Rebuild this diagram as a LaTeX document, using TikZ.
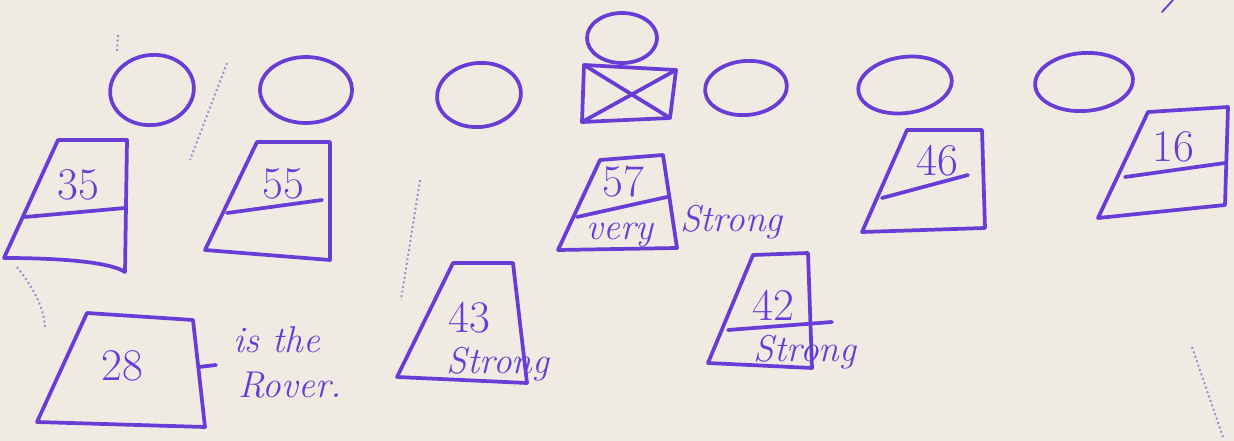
\documentclass[tikz,border=0pt]{standalone}
\usepackage{tikz}

\definecolor{ink}{RGB}{106,60,214}
\definecolor{paper}{RGB}{239,235,226}

\tikzset{
  pen/.style={draw=ink, line width=2.8pt, line cap=round, line join=round},
  faint/.style={draw=ink, line width=1.5pt, dotted, opacity=0.55},
  num/.style={text=ink, inner sep=0.75pt, font=\fontsize{34}{36}\selectfont},
  word/.style={text=ink, inner sep=0.75pt, font=\itshape\fontsize{28}{30}\selectfont, align=left}
}

\begin{document}
\begin{tikzpicture}[x=0.75pt,y=0.75pt,yscale=-1,xscale=1]
%set diagram: paper of 1234 by 441
\fill [paper] (0,0) rectangle (1234,441);
\useasboundingbox (0,0) rectangle (1234,441);

%Shape: Ellipse (top row)
\draw [pen] (152,90) ellipse [x radius=42, y radius=35, rotate=-8];
\draw [pen] (306,90) ellipse [x radius=46, y radius=33];
\draw [pen] (479,95) ellipse [x radius=42, y radius=32, rotate=-6];
\draw [pen] (746,88) ellipse [x radius=41, y radius=27, rotate=-5];
\draw [pen] (905,85) ellipse [x radius=47, y radius=28, rotate=-8];
\draw [pen] (1084,82) ellipse [x radius=49, y radius=29, rotate=-4];
%Shape: Ellipse (head over the crossed box)
\draw [pen] (622,38) ellipse [x radius=35, y radius=25];
%Shape: Crossed box
\draw [pen] (584,65) -- (676,70) -- (670,118) -- (582,122) -- cycle ;
\draw [pen] (584,65) -- (670,118) ;
\draw [pen] (676,70) -- (582,122) ;

%Shape: Trapezoid 35
\draw [pen] (58,140) -- (127,140) -- (125,272) .. controls (110,262) and (60,258) .. (4,258) -- cycle ;
\draw [pen] (25,217) -- (125,208) ;
\node [num] (n35) at (78,185) {35};

%Shape: Trapezoid 55
\draw [pen] (257,142) -- (330,142) -- (330,260) -- (205,250) -- cycle ;
\draw [pen] (227,213) -- (322,200) ;
\node [num] (n55) at (283,184) {55};

%Shape: Trapezoid 57
\draw [pen] (600,160) -- (663,155) -- (677,248) -- (558,250) -- cycle ;
\draw [pen] (577,217) -- (667,197) ;
\node [num] (n57) at (623,182) {57};
\node [word] (v57) at (620,235) {very};
\node [word, anchor=west] (s57) at (679,222) {Strong};

%Shape: Trapezoid 46
\draw [pen] (907,130) -- (982,130) -- (985,228) -- (862,232) -- cycle ;
\draw [pen] (882,198) -- (968,175) ;
\node [num] (n46) at (937,161) {46};

%Shape: Trapezoid 16
\draw [pen] (1148,112) -- (1228,107) -- (1225,205) -- (1098,218) -- cycle ;
\draw [pen] (1125,177) -- (1225,163) ;
\node [num] (n16) at (1173,147) {16};

%Shape: Trapezoid 28
\draw [pen] (87,313) -- (193,320) -- (205,427) -- (37,422) -- cycle ;
\coordinate (tick28) at (199,367) ;
\coordinate (tickend) at (216,365) ;
\node [num] (n28) at (122,366) {28};
\node [word] (is28) at (277,340) {is the};
\node [word] (r28) at (290,385) {Rover.};
\draw [pen] (tick28) -- (tickend) ;

%Shape: Trapezoid 43
\draw [pen] (453,263) -- (513,263) -- (527,383) -- (397,377) -- cycle ;
\node [num] (n43) at (469,318) {43};
\node [word] (s43) at (498,364) {Strong};

%Shape: Trapezoid 42
\draw [pen] (753,255) -- (808,253) -- (812,368) -- (708,363) -- cycle ;
\draw [pen] (728,330) -- (832,322) ;
\node [num] (n42) at (773,305) {42};
\node [word] (s42) at (805,352) {Strong};

%Marks on the paper
\draw [faint] (420,180) -- (401,300) ;
\draw [faint] (227,63) -- (190,160) ;
\draw [faint] (17,267) .. controls (35,290) and (45,310) .. (45,330) ;
\draw [faint] (1192,347) -- (1223,437) ;
\draw [faint] (118,35) -- (117,53) ;
\draw [pen, line width=1.4pt] (1162,12) -- (1173,0) ;

\end{tikzpicture}
\end{document}
